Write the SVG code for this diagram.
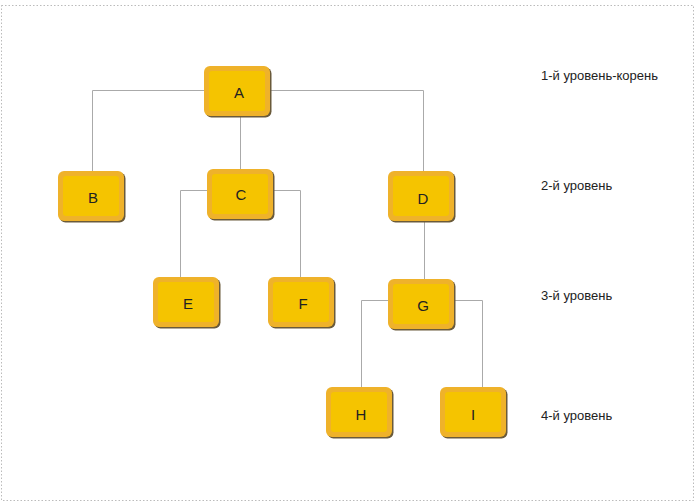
<svg xmlns="http://www.w3.org/2000/svg" width="697" height="504" viewBox="0 0 697 504">
<style>
.sh{fill:#6a5a3a;}
.out{fill:#efb22a;}
.in{fill:#f5c400;}
.t{font-family:"Liberation Sans",Arial,sans-serif;font-size:15px;fill:#222;text-anchor:middle;dominant-baseline:central;}
.lbl{font-family:"Liberation Sans",Arial,sans-serif;font-size:13px;fill:#222;}
.c{fill:none;stroke:#aaaaaa;stroke-width:1;}
</style>
<defs>
<g id="box">
<rect class="sh" x="1.5" y="1.5" width="66" height="50" rx="6"/>
<rect class="out" x="0" y="0" width="66" height="50" rx="6"/>
<rect class="in" x="5" y="5" width="56" height="40" rx="3"/>
</g>
</defs>
<rect x="1.5" y="5.5" width="692" height="495" fill="#fff" stroke="#bbbbbb" stroke-width="1" stroke-dasharray="1.5,2"/>
<g id="connectors">
<path class="c" d="M204.5 90.5 H92.5 V171"/>
<path class="c" d="M270 90.5 H423.5 V171"/>
<path class="c" d="M240.5 117 V169"/>
<path class="c" d="M207 190.5 H180.5 V277"/>
<path class="c" d="M273 190.5 H300.5 V277"/>
<path class="c" d="M424.5 221 V279"/>
<path class="c" d="M388 300.5 H361.5 V387"/>
<path class="c" d="M454 300.5 H482.5 V387"/>
</g>
<g id="A"><use href="#box" x="204" y="66"/><text class="t" x="239" y="92">A</text></g>
<g id="B"><use href="#box" x="58" y="171"/><text class="t" x="93" y="197">B</text></g>
<g id="C"><use href="#box" x="207" y="169"/><text class="t" x="241" y="194">C</text></g>
<g id="D"><use href="#box" x="388" y="171"/><text class="t" x="423" y="198">D</text></g>
<g id="E"><use href="#box" x="153" y="277"/><text class="t" x="188" y="303">E</text></g>
<g id="F"><use href="#box" x="268" y="277"/><text class="t" x="303" y="303">F</text></g>
<g id="G"><use href="#box" x="388" y="279"/><text class="t" x="423" y="305">G</text></g>
<g id="H"><use href="#box" x="326" y="387"/><text class="t" x="361" y="414">H</text></g>
<g id="I"><use href="#box" x="440" y="387"/><text class="t" x="473" y="414">I</text></g>
<g id="labels">
<text class="lbl" x="541" y="80">1-й уровень-корень</text>
<text class="lbl" x="541" y="190">2-й уровень</text>
<text class="lbl" x="541" y="300">3-й уровень</text>
<text class="lbl" x="541" y="420">4-й уровень</text>
</g>
</svg>
